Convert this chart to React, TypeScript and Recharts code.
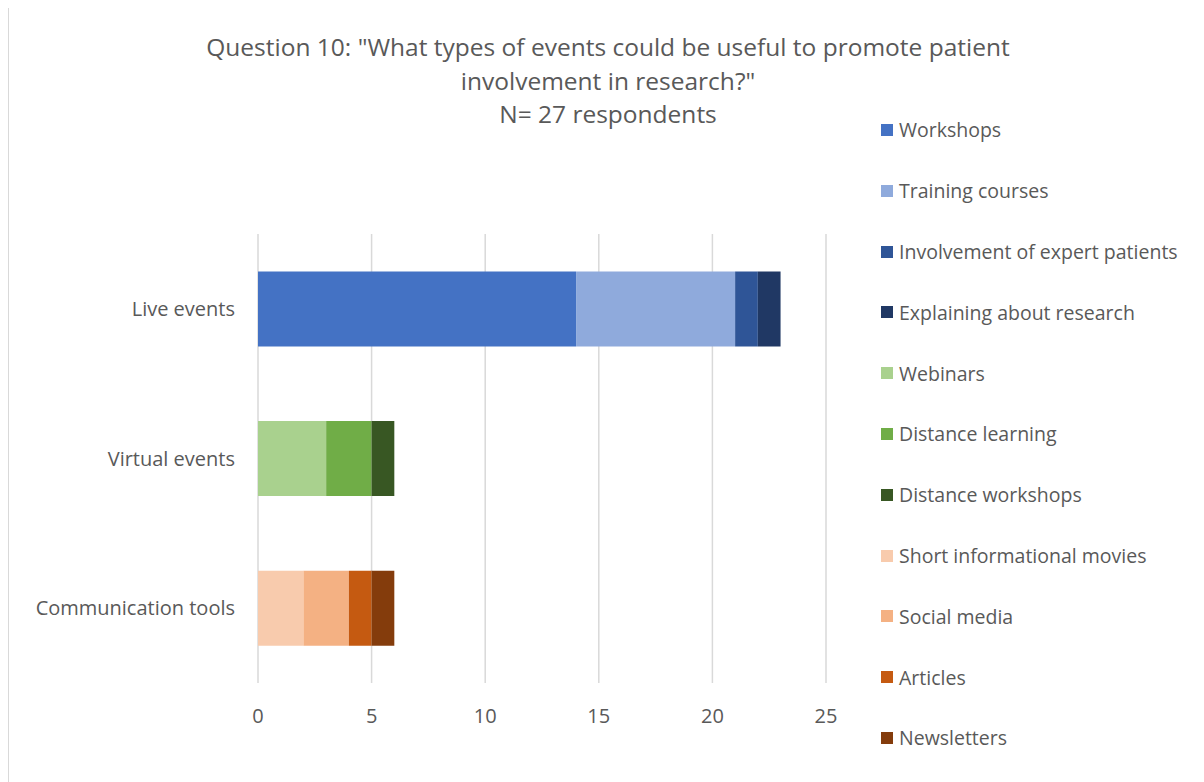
import React from 'react';
import { BarChart, Bar, XAxis, YAxis, CartesianGrid, Legend } from 'recharts';

const categories = ['Live events', 'Virtual events', 'Communication tools'];

const seriesNames = [
  'Workshops',
  'Training courses',
  'Involvement of expert patients',
  'Explaining about research',
  'Webinars',
  'Distance learning',
  'Distance workshops',
  'Short informational movies',
  'Social media',
  'Articles',
  'Newsletters',
];

// values per series, in category order: Live, Virtual, Communication
const workshops = [14, 0, 0];
const trainingCourses = [7, 0, 0];
const expertPatients = [1, 0, 0];
const explainingResearch = [1, 0, 0];
const webinars = [0, 3, 0];
const distanceLearning = [0, 2, 0];
const distanceWorkshops = [0, 1, 0];
const shortMovies = [0, 0, 2];
const socialMedia = [0, 0, 2];
const articles = [0, 0, 1];
const newsletters = [0, 0, 1];

const seriesValues = [
  workshops,
  trainingCourses,
  expertPatients,
  explainingResearch,
  webinars,
  distanceLearning,
  distanceWorkshops,
  shortMovies,
  socialMedia,
  articles,
  newsletters,
];

const seriesColors = [
  '#4472C4',
  '#8FAADC',
  '#2F5597',
  '#203864',
  '#A9D18E',
  '#70AD47',
  '#385723',
  '#F8CBAD',
  '#F4B183',
  '#C55A11',
  '#843C0C',
];

const xTicks = [0, 5, 10, 15, 20, 25];

const titleLines = [
  'Question 10: "What types of events could be useful to promote patient',
  'involvement in research?"',
  'N= 27 respondents',
];

const data = categories.map((c, ci) => {
  const row: Record<string, string | number | null> = { category: c };
  seriesNames.forEach((s, si) => {
    const v = seriesValues[si][ci];
    row[s] = v === 0 ? null : v;
  });
  return row;
});

const FONT = '"Open Sans", "Noto Sans", sans-serif';
const TEXT = '#595959';

const LegendContent = () => (
  <div style={{ fontFamily: FONT, fontSize: 19.5, color: TEXT }}>
    {seriesNames.map((s, i) => (
      <div key={s} style={{ height: 60.8, display: 'flex', alignItems: 'center', whiteSpace: 'nowrap' }}>
        <span style={{ display: 'inline-block', width: 12, height: 12, background: seriesColors[i], marginRight: 6 }} />
        <span>{s}</span>
      </div>
    ))}
  </div>
);

export default function App() {
  return (
    <div
      style={{
        boxSizing: 'border-box',
        width: 1196,
        height: 775,
        marginTop: -1,
        borderTop: '1px solid #d9d9d9',
        borderLeft: '1px solid #d9d9d9',
        overflow: 'hidden',
        background: '#fff',
      }}
    >
      <div style={{ position: 'relative', width: 1195, height: 774 }}>
        <div
          style={{
            position: 'absolute',
            left: 0,
            width: 1198,
            top: 22,
            textAlign: 'center',
            fontFamily: FONT,
            fontSize: 24.5,
            lineHeight: '33.5px',
            color: TEXT,
            zIndex: 2,
          }}
        >
          {titleLines.map((l) => (
            <div key={l}>{l}</div>
          ))}
        </div>
        <BarChart
          width={1195}
          height={774}
          data={data}
          layout="vertical"
          margin={{ top: 226, right: 378, bottom: 59, left: 9 }}
          barCategoryGap="25%"
        >
          <CartesianGrid horizontal={false} stroke="#d9d9d9" strokeWidth={1.5} />
          <XAxis
            type="number"
            domain={[0, 25]}
            ticks={xTicks}
            axisLine={false}
            tickLine={false}
            tickSize={0}
            tickMargin={26}
            height={40}
            tick={{ fill: TEXT, fontSize: 20, fontFamily: FONT }}
          />
          <YAxis
            type="category"
            dataKey="category"
            width={240}
            axisLine={false}
            tickLine={false}
            tickSize={0}
            tickMargin={23}
            tick={{ fill: TEXT, fontSize: 20, fontFamily: FONT }}
          />
          <Legend
            layout="vertical"
            align="center"
            verticalAlign="middle"
            content={<LegendContent />}
            wrapperStyle={{ left: 872, top: 91.6, width: 320 }}
          />
          {seriesNames.map((s, i) => (
            <Bar key={s} dataKey={s} stackId="a" fill={seriesColors[i]} isAnimationActive={false} />
          ))}
        </BarChart>
      </div>
    </div>
  );
}
